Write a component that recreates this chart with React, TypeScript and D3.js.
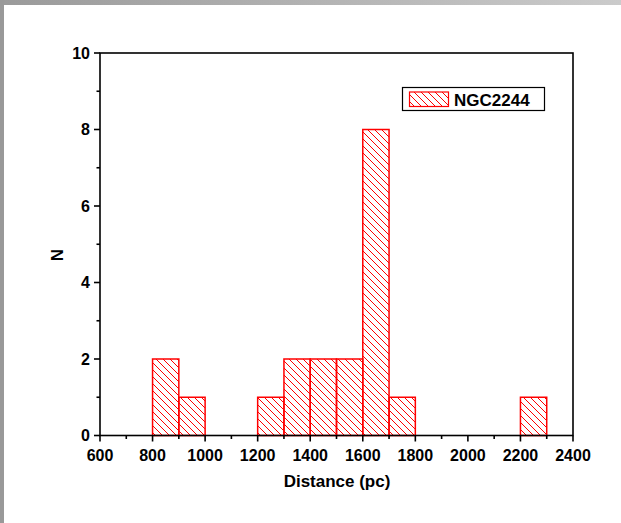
import React from "react";
import * as d3 from "d3";

// Histogram of cluster member distances (bin width 100 pc)
const binStarts = [800, 900, 1200, 1300, 1400, 1500, 1600, 1700, 2200];
const binCounts = [2, 1, 1, 2, 2, 2, 8, 1, 1];
const binWidth = 100;
const seriesName = "NGC2244";

const xMajorTicks = [600, 800, 1000, 1200, 1400, 1600, 1800, 2000, 2200, 2400];
const xMinorTicks = [700, 900, 1100, 1300, 1500, 1700, 1900, 2100, 2300];
const yMajorTicks = [0, 2, 4, 6, 8, 10];
const yMinorTicks = [1, 3, 5, 7, 9];

const W = 621;
const H = 523;
const FONT = "'Liberation Sans', Arial, sans-serif";

export default function App() {
  const x = d3.scaleLinear().domain([600, 2400]).range([100, 573]);
  const y = d3.scaleLinear().domain([0, 10]).range([435.5, 53]);
  const red = "#ff0000";

  return (
    <svg
      width={W}
      height={H}
      style={{ position: "absolute", left: 0, top: 0, display: "block", background: "#fff" }}
    >
      <defs>
        <linearGradient id="topBand" x1="0" x2="1" y1="0" y2="0">
          <stop offset="0" stopColor="#9a9a9a" />
          <stop offset="1" stopColor="#cbcbcb" />
        </linearGradient>
        <pattern id="hatch" patternUnits="userSpaceOnUse" width={7} height={7}>
          <path
            d="M0,0 L7,7 M-1,6 L1,8 M6,-1 L8,1"
            stroke={red}
            strokeWidth={1}
            fill="none"
          />
        </pattern>
      </defs>

      {/* window frame */}
      <rect x={0} y={0} width={W} height={5} fill="url(#topBand)" />
      <rect x={0} y={0} width={4} height={H} fill="#999" />

      {/* bars */}
      {binStarts.map((s, i) => (
        <rect
          key={s}
          x={x(s)}
          y={y(binCounts[i])}
          width={x(s + binWidth) - x(s)}
          height={y(0) - y(binCounts[i])}
          fill="url(#hatch)"
          stroke={red}
          strokeWidth={1.5}
        />
      ))}

      {/* frame box */}
      <rect
        x={x(600)}
        y={y(10)}
        width={x(2400) - x(600)}
        height={y(0) - y(10)}
        fill="none"
        stroke="#000"
        strokeWidth={1.6}
      />

      {/* x ticks */}
      {xMajorTicks.map((t) => (
        <g key={"xm" + t}>
          <line x1={x(t)} x2={x(t)} y1={y(0)} y2={y(0) + 6} stroke="#000" strokeWidth={1.6} />
          <text
            x={x(t)}
            y={y(0) + 25}
            textAnchor="middle"
            fontFamily={FONT}
            fontWeight="bold"
            fontSize={16}
            fill="#000"
          >
            {t}
          </text>
        </g>
      ))}
      {xMinorTicks.map((t) => (
        <line key={"xn" + t} x1={x(t)} x2={x(t)} y1={y(0)} y2={y(0) + 3.5} stroke="#000" strokeWidth={1.6} />
      ))}

      {/* y ticks */}
      {yMajorTicks.map((t) => (
        <g key={"ym" + t}>
          <line x1={x(600) - 6} x2={x(600)} y1={y(t)} y2={y(t)} stroke="#000" strokeWidth={1.6} />
          <text
            x={x(600) - 10}
            y={y(t)}
            dy="0.36em"
            textAnchor="end"
            fontFamily={FONT}
            fontWeight="bold"
            fontSize={16}
            fill="#000"
          >
            {t}
          </text>
        </g>
      ))}
      {yMinorTicks.map((t) => (
        <line key={"yn" + t} x1={x(600) - 3.5} x2={x(600)} y1={y(t)} y2={y(t)} stroke="#000" strokeWidth={1.6} />
      ))}

      {/* axis titles */}
      <text
        x={337}
        y={487}
        textAnchor="middle"
        fontFamily={FONT}
        fontSize={17}
        fontWeight="bold"
        fill="#000"
      >
        Distance (pc)
      </text>
      <text
        transform="translate(63,255) rotate(-90)"
        textAnchor="middle"
        fontFamily={FONT}
        fontSize={17}
        fontWeight="bold"
        fill="#000"
      >
        N
      </text>

      {/* legend */}
      <rect x={402.5} y={87.5} width={142} height={23} fill="#fff" stroke="#000" strokeWidth={1.2} />
      <rect x={409.5} y={92} width={39} height={14.5} fill="url(#hatch)" stroke={red} strokeWidth={1.2} />
      <text
        x={454}
        y={105.5}
        fontFamily={FONT}
        fontSize={17}
        fontWeight="bold"
        fill="#000"
      >
        {seriesName}
      </text>
    </svg>
  );
}
